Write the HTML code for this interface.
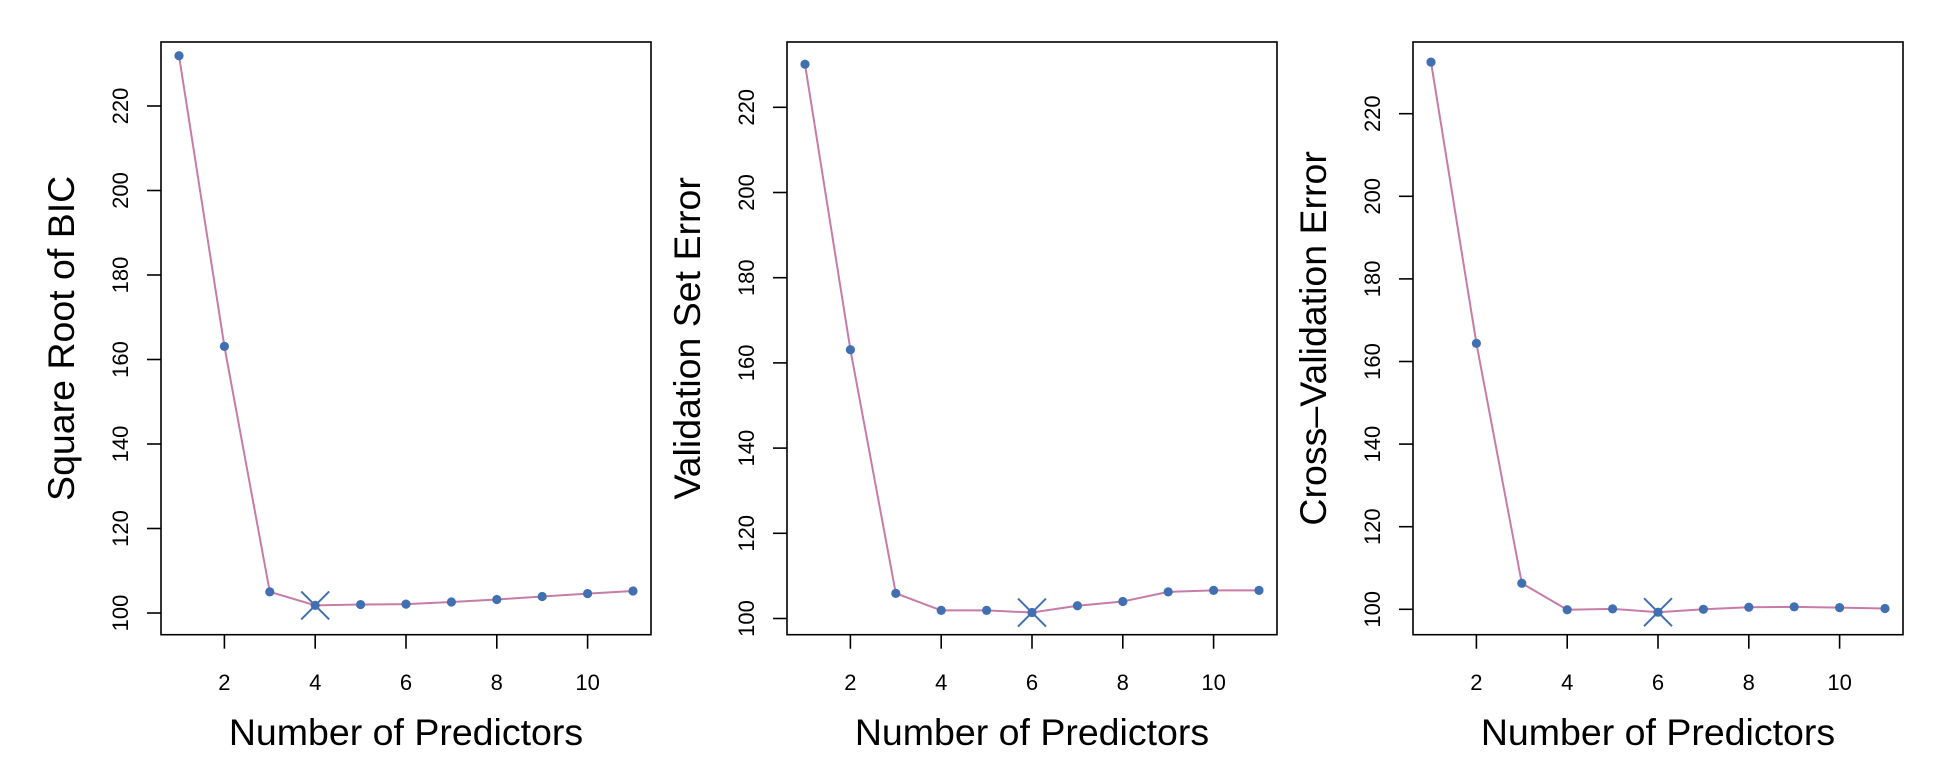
<!DOCTYPE html>
<html><head><meta charset="utf-8"><style>
html,body{margin:0;padding:0;background:#fff;}
svg{display:block;font-family:"Liberation Sans",Arial,sans-serif;}
</style></head><body>
<svg id="chart" width="1942" height="766" viewBox="0 0 1942 766" xmlns="http://www.w3.org/2000/svg"></svg>
<script>
const predictors = [1,2,3,4,5,6,7,8,9,10,11];
const bicValues = [231.9,163.1,105.0,101.8,102.0,102.1,102.6,103.2,103.9,104.6,105.2];
const valValues = [230.1,163.1,105.9,101.9,101.9,101.4,103.0,104.0,106.25,106.6,106.6];
const cvValues = [232.5,164.4,106.3,99.9,100.1,99.3,100.0,100.5,100.6,100.4,100.2];
const xTicks = [2,4,6,8,10];
const yTicks = [100,120,140,160,180,200,220];
const titles = ["Square Root of BIC","Validation Set Error","Cross\u2013Validation Error"];
const bestIdx = [3,5,5];

const panels = [
  {L:161, y100:613, ppu:4.225, vals:bicValues, name:'bic'},
  {L:787, y100:618.5, ppu:4.26, vals:valValues, name:'validation'},
  {L:1413, y100:609.3, ppu:4.13, vals:cvValues, name:'cross-validation'}
];
const NS='http://www.w3.org/2000/svg';
const svg=document.getElementById('chart');
function mk(tag,attrs,parent){const e=document.createElementNS(NS,tag);for(const k in attrs)e.setAttribute(k,attrs[k]);(parent||svg).appendChild(e);return e;}
const TOP=42, BOT=634.7, W=490;
panels.forEach((p,pi)=>{
  const g=mk('g',{});
  
  
  const xs=v=>p.L+18+(v-1)*45.4;
  const ys=v=>p.y100-(v-100)*p.ppu;
  const box=mk('rect',{x:p.L,y:TOP,width:W,height:BOT-TOP,fill:'none',stroke:'#000','stroke-width':1.6},g);
  
  
  xTicks.forEach(t=>{
    const tk=mk('line',{x1:xs(t),x2:xs(t),y1:BOT,y2:BOT+14,stroke:'#000','stroke-width':1.6},g);
    
    
    const tl=mk('text',{x:xs(t),y:690,'font-size':22,'text-anchor':'middle'},g);
    tl.textContent=t;
    
    
  });
  yTicks.forEach(t=>{
    const y=ys(t);
    const tk=mk('line',{x1:p.L-14,x2:p.L,y1:y,y2:y,stroke:'#000','stroke-width':1.6},g);
    
    
    const tl=mk('text',{x:p.L-33,y:y,'font-size':22,'text-anchor':'middle',transform:`rotate(-90 ${p.L-33} ${y})`},g);
    tl.textContent=t;
    
    
  });
  const xt=mk('text',{x:p.L+W/2,y:745,'font-size':37.5,'text-anchor':'middle'},g);
  xt.textContent='Number of Predictors';
  
  
  const cy=(TOP+BOT)/2, cx=p.L-87;
  const yt=mk('text',{x:cx,y:cy,'font-size':37.5,'text-anchor':'middle',transform:`rotate(-90 ${cx} ${cy})`},g);
  yt.textContent=titles[pi];
  
  
  const pts=predictors.map((x,i)=>xs(x)+','+ys(p.vals[i])).join(' ');
  const ln=mk('polyline',{points:pts,fill:'none',stroke:'#c77ca8','stroke-width':2},g);
  
  
  predictors.forEach((x,i)=>{
    const c=mk('circle',{cx:xs(x),cy:ys(p.vals[i]),r:4.6,fill:'#4170b2'},g);
    
    
  });
  const bi=bestIdx[pi], bx=xs(predictors[bi]), by=ys(p.vals[bi]), s=14;
  const m=mk('path',{d:`M${bx-s},${by-s}L${bx+s},${by+s}M${bx-s},${by+s}L${bx+s},${by-s}`,stroke:'#4170b2','stroke-width':2,fill:'none'},g);
  
  
});
</script>
</body></html>
